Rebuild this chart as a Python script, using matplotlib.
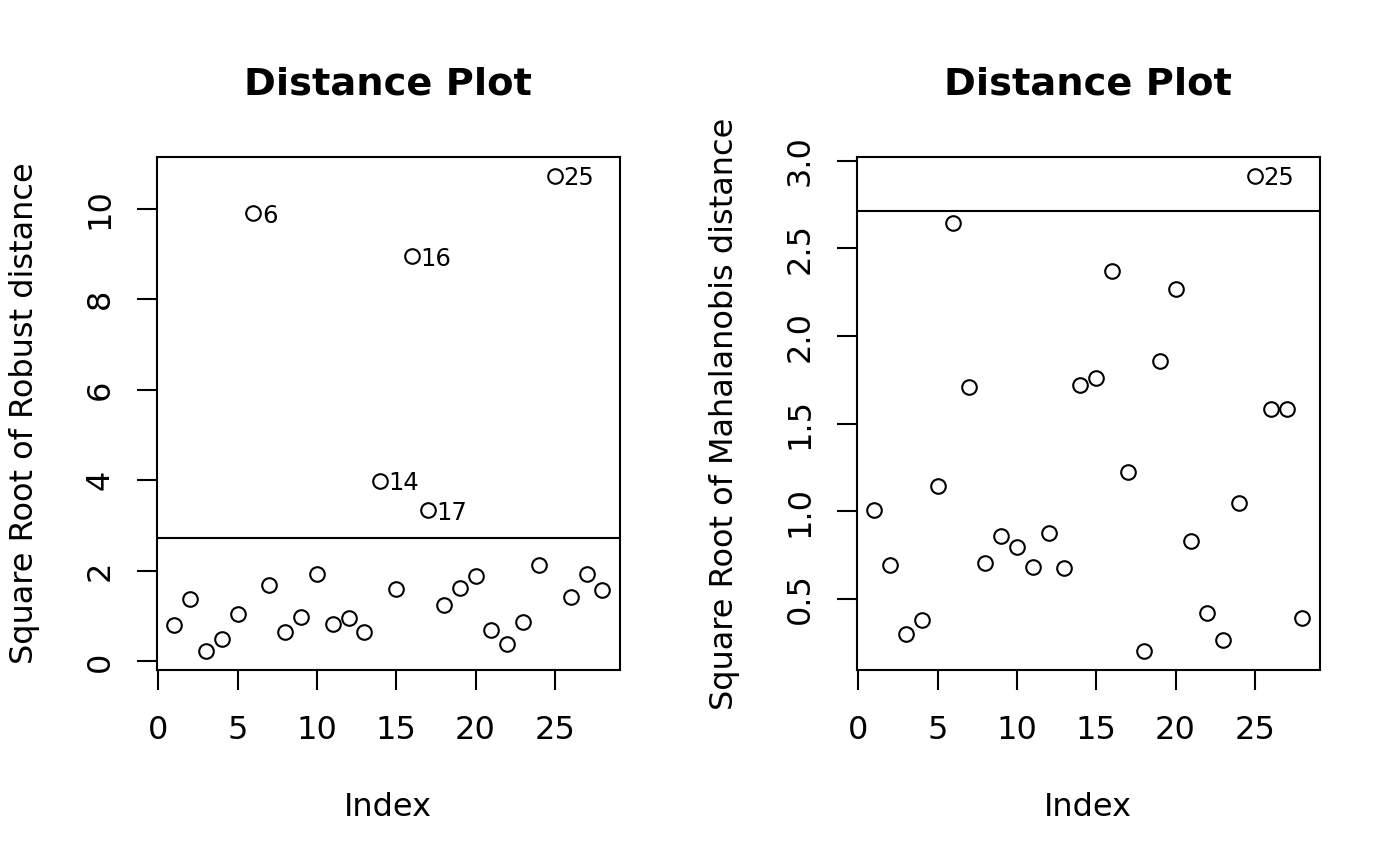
import matplotlib
matplotlib.use("Agg")
import matplotlib.pyplot as plt
import numpy as np

plt.rcParams['font.family'] = ['DejaVu Sans']

# index of observations
index = list(range(1, 29))

# square root of robust distances
robust = [0.80, 1.38, 0.23, 0.49, 1.04, 9.90, 1.69, 0.65, 0.98, 1.94,
          0.83, 0.96, 0.64, 3.99, 1.60, 8.95, 3.34, 1.24, 1.62, 1.89,
          0.69, 0.39, 0.88, 2.14, 10.72, 1.42, 1.92, 1.57]

# square root of mahalanobis distances
mahal = [1.007, 0.695, 0.300, 0.380, 1.146, 2.645, 1.708, 0.706, 0.859, 0.799,
         0.685, 0.874, 0.677, 1.723, 1.763, 2.371, 1.223, 0.203, 1.856, 2.267,
         0.832, 0.417, 0.265, 1.046, 2.913, 1.586, 1.582, 0.394]

cutoff = 2.716
robust_outliers = [6, 14, 16, 17, 25]
mahal_outliers = [25]

x_ticks = [0, 5, 10, 15, 20, 25]
robust_ticks = [0, 2, 4, 6, 8, 10]
mahal_ticks = [0.5, 1.0, 1.5, 2.0, 2.5, 3.0]

base = 23
lw = 1.5

fig = plt.figure(figsize=(14, 8.66), dpi=100)


def distance_panel(left, vals, ticks, ylabel, outliers, fmt):
    ax = fig.add_axes([left, 0.22633, 0.3304, 0.59238])
    ax.plot(index, vals, 'o', mfc='none', mec='black', ms=10.5, mew=1.5)
    ax.axhline(cutoff, color='black', lw=lw)
    for i in outliers:
        ax.annotate(str(i), (i, vals[i - 1]), xytext=(6, 0),
                    textcoords='offset points', ha='left',
                    va='center_baseline', fontsize=17.5)
    # R style range extension of 4%
    lo, hi = min(vals), max(vals)
    ax.set_xlim(1 - 0.04 * 27, 28 + 0.04 * 27)
    ax.set_ylim(lo - 0.04 * (hi - lo), hi + 0.04 * (hi - lo))
    ax.set_xticks(x_ticks)
    ax.set_yticks(ticks)
    ax.set_yticklabels([fmt.format(t) for t in ticks], rotation=90, va='center')
    ax.tick_params(axis='both', direction='out', length=14.4, width=lw,
                   labelsize=base)
    ax.tick_params(axis='x', pad=18)
    ax.tick_params(axis='y', pad=15.3)
    for s in ax.spines.values():
        s.set_linewidth(lw)
    ax.set_title('Distance Plot', fontsize=27.6, fontweight='bold',
                 y=1.1228, pad=0, va='baseline')
    ax.set_xlabel('Index', fontsize=base)
    ax.xaxis.set_label_coords(0.5, -0.2846)
    ax.xaxis.label.set_va('baseline')
    ax.set_ylabel(ylabel, fontsize=base)
    ax.yaxis.set_label_coords(-0.2675, 0.5)
    ax.yaxis.label.set_va('baseline')
    return ax


distance_panel(0.11214, robust, robust_ticks, 'Square Root of Robust distance',
               robust_outliers, '{:g}')
distance_panel(0.61214, mahal, mahal_ticks, 'Square Root of Mahalanobis distance',
               mahal_outliers, '{:.1f}')

fig.savefig('out.png', dpi=100)
